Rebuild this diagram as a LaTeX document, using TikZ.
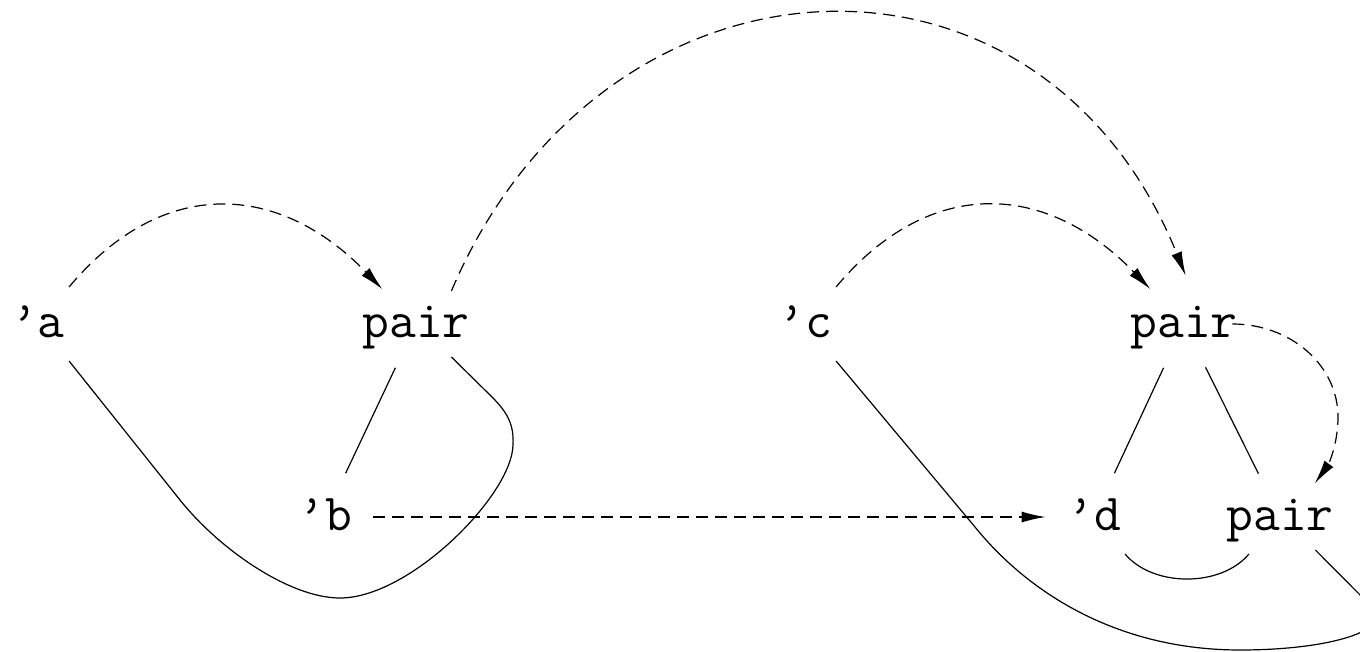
\documentclass[tikz,border=0pt]{standalone}
\usetikzlibrary{arrows.meta}
\newcommand\nlab[1]{\makebox[0pt]{#1}}
\begin{document}
\begin{tikzpicture}[x=0.5pt,y=0.5pt,
  lbl/.style={circle, minimum size=48pt, inner sep=0pt,
    font=\fontsize{26}{30}\selectfont\ttfamily,
    text height=16pt, text depth=2.1pt},
  conn/.style={line width=0.6pt},
  dasharrow/.style={conn, dash pattern=on 6pt off 3.5pt,
    -{Latex[length=12pt,width=5.5pt]}}]
\useasboundingbox (0,0) rectangle (1360,-652);
\clip (0,0) rectangle (1360,-652);
% nodes
\node[lbl] (a)  at (38,-324)   {\nlab{’a}};
\node[lbl] (p1) at (416,-324)  {\nlab{pair}};
\node[lbl] (b)  at (325,-517)  {\nlab{’b}};
\node[lbl] (c)  at (805,-324)  {\nlab{’c}};
\node[lbl] (p2) at (1184,-324) {\nlab{pair}};
\node[lbl] (d)  at (1094,-517) {\nlab{’d}};
\node[lbl] (p3) at (1280,-517) {\nlab{pair}};
\coordinate (k1) at (1338,-417);
% solid tree edges
\draw[conn] (p1) -- (b);
\draw[conn] (p2) -- (d);
\draw[conn] (p2) -- (p3);
\draw[conn] (d) to[out=-50,in=-130,looseness=0.9] (p3);
% loops
\draw[conn] (p1.-43) -- (492,-397) .. controls (508,-413) and (514,-425) .. (513,-445)
  .. controls (512,-495) and (410,-598) .. (340,-598)
  .. controls (290,-598) and (220,-550) .. (180,-500) -- (a.-50);
\draw[conn] (c.-50) -- (975,-527) .. controls (1030,-595) and (1120,-650) .. (1240,-650)
  .. controls (1330,-650) and (1395,-630) .. (1372,-607) -- (p3.-43);
% dashed arrows
\draw[dasharrow] (a) to[out=50,in=134,looseness=1.2] (p1);
\draw[dasharrow] (c) to[out=50,in=134,looseness=1.2] (p2);
\draw[dasharrow] (p1.43) .. controls +(67:385) and +(112:391) .. (p2.88);
\draw[dasharrow] (p2.0) .. controls +(58,0) and +(0,52) .. (k1)
  .. controls +(0,-28) and +(13,18) .. (p3.44);
\draw[dasharrow] (b) -- (d);
\end{tikzpicture}
\end{document}
